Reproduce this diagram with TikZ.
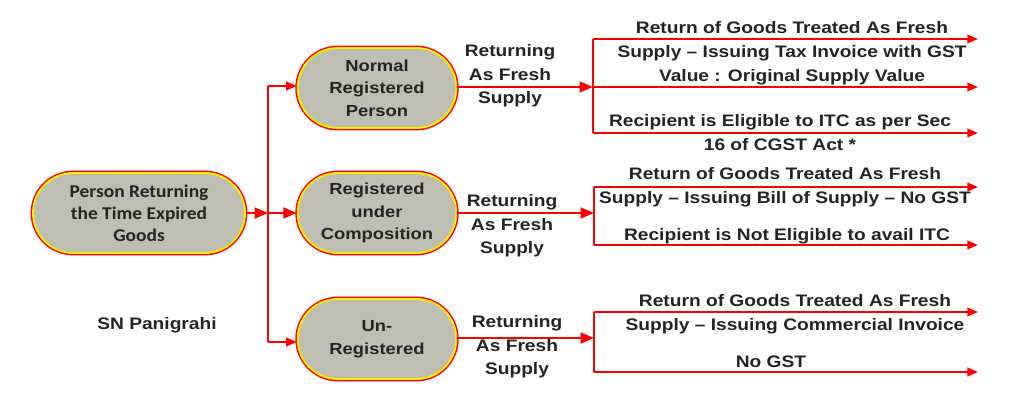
\documentclass[tikz,border=0pt]{standalone}
\usepackage{fontspec}
\setmainfont{Liberation Sans}[FakeStretch=1.15]
\newfontfamily\calibri{Carlito}[FakeStretch=1.08]
\usepackage{tikz}
\usetikzlibrary{arrows.meta, positioning, calc}
\definecolor{gstred}{RGB}{255, 0, 0}
\definecolor{gstyellow}{RGB}{255, 240, 0}
\definecolor{capsgray}{RGB}{190, 190, 178}
\definecolor{inktext}{RGB}{35, 35, 35}

\tikzset{
  capsule/.style={rounded corners=30pt, fill=capsgray, draw=gstyellow, line width=1.4pt,
    preaction={draw=gstred, line width=3.6pt}, minimum height=60pt, align=center,
    text=inktext, font=\bfseries\fontsize{12}{17}\selectfont, inner sep=0pt},
  flow/.style={gstred, line width=2pt, -{Triangle[length=10pt, width=8pt]}},
  branch/.style={gstred, line width=1.5pt, -{Triangle[length=8pt, width=6.5pt]}},
  note/.style={text=inktext, font=\bfseries\fontsize{12.5}{17.5}\selectfont, align=center, inner sep=0pt},
  outcome/.style={note, font=\bfseries\fontsize{12.5}{18}\selectfont}
}

\begin{document}
\begin{tikzpicture}[x=0.75pt, y=-0.75pt]
  \useasboundingbox (0,0) rectangle (1024,404);
  % left side: who is returning
  \node[capsule, minimum width=159pt, font=\calibri\bfseries\fontsize{13.5}{16.5}\selectfont] (person) at (139,213)
    {Person Returning\\the Time Expired\\Goods};
  \node[capsule, minimum width=119pt] (normal) at (377,88) {Normal\\Registered\\Person};
  \node[capsule, minimum width=119pt] (compo) at (377,213) {Registered\\under\\Composition};
  \node[capsule, minimum width=119pt] (unreg) at (377,339) {Un-\\Registered};
  \node[note] (author) at (157,325) {SN Panigrahi};

  \coordinate (split) at (268,213);
  \draw[flow] (person) -- (split);
  \draw[gstred, line width=1.5pt] (268,86) -- (268,342);
  \draw[branch] (268,86) -- (normal.west |- 0,86);
  \draw[flow] (split) -- (compo);
  \draw[branch] (268,342) -- (unreg.west |- 0,342);

  % returning as fresh supply
  \coordinate (fanA) at (593,87);
  \coordinate (fanB) at (594,213);
  \coordinate (fanC) at (594,338);
  \draw[flow] (normal.east |- fanA) -- (fanA);
  \draw[flow] (compo) -- (fanB);
  \draw[flow] (unreg.east |- fanC) -- (fanC);
  \node[note] (retA) at (510,76) {Returning\\As Fresh\\Supply};
  \node[note] (retB) at (512,226) {Returning\\As Fresh\\Supply};
  \node[note] (retC) at (517,347) {Returning\\As Fresh\\Supply};

  % outcomes
  \draw[gstred, line width=1.5pt] (593,39) -- (593,133);
  \foreach \y in {39,87,133} \draw[branch] (593,\y) -- (978,\y);
  \draw[gstred, line width=1.5pt] (594,187) -- (594,245);
  \foreach \y in {187,245} \draw[branch] (594,\y) -- (978,\y);
  \draw[gstred, line width=1.5pt] (594,312) -- (594,372);
  \foreach \y in {312,372} \draw[branch] (594,\y) -- (978,\y);

  \node[outcome] (outA1) at (792,41) {Return of Goods Treated As Fresh\\Supply -- Issuing Tax Invoice with GST};
  \node[outcome] (outA2) at (792,77) {Value : Original Supply Value};
  \node[outcome] (outA3) at (780,133) {Recipient is Eligible to ITC as per Sec\\16 of CGST Act *};
  \node[outcome] (outB1) at (785,187) {Return of Goods Treated As Fresh\\Supply -- Issuing Bill of Supply -- No GST};
  \node[outcome] (outB2) at (787,236) {Recipient is Not Eligible to avail ITC};
  \node[outcome] (outC1) at (795,314) {Return of Goods Treated As Fresh\\Supply -- Issuing Commercial Invoice};
  \node[outcome] (outC2) at (771,362) {No GST};
\end{tikzpicture}
\end{document}
